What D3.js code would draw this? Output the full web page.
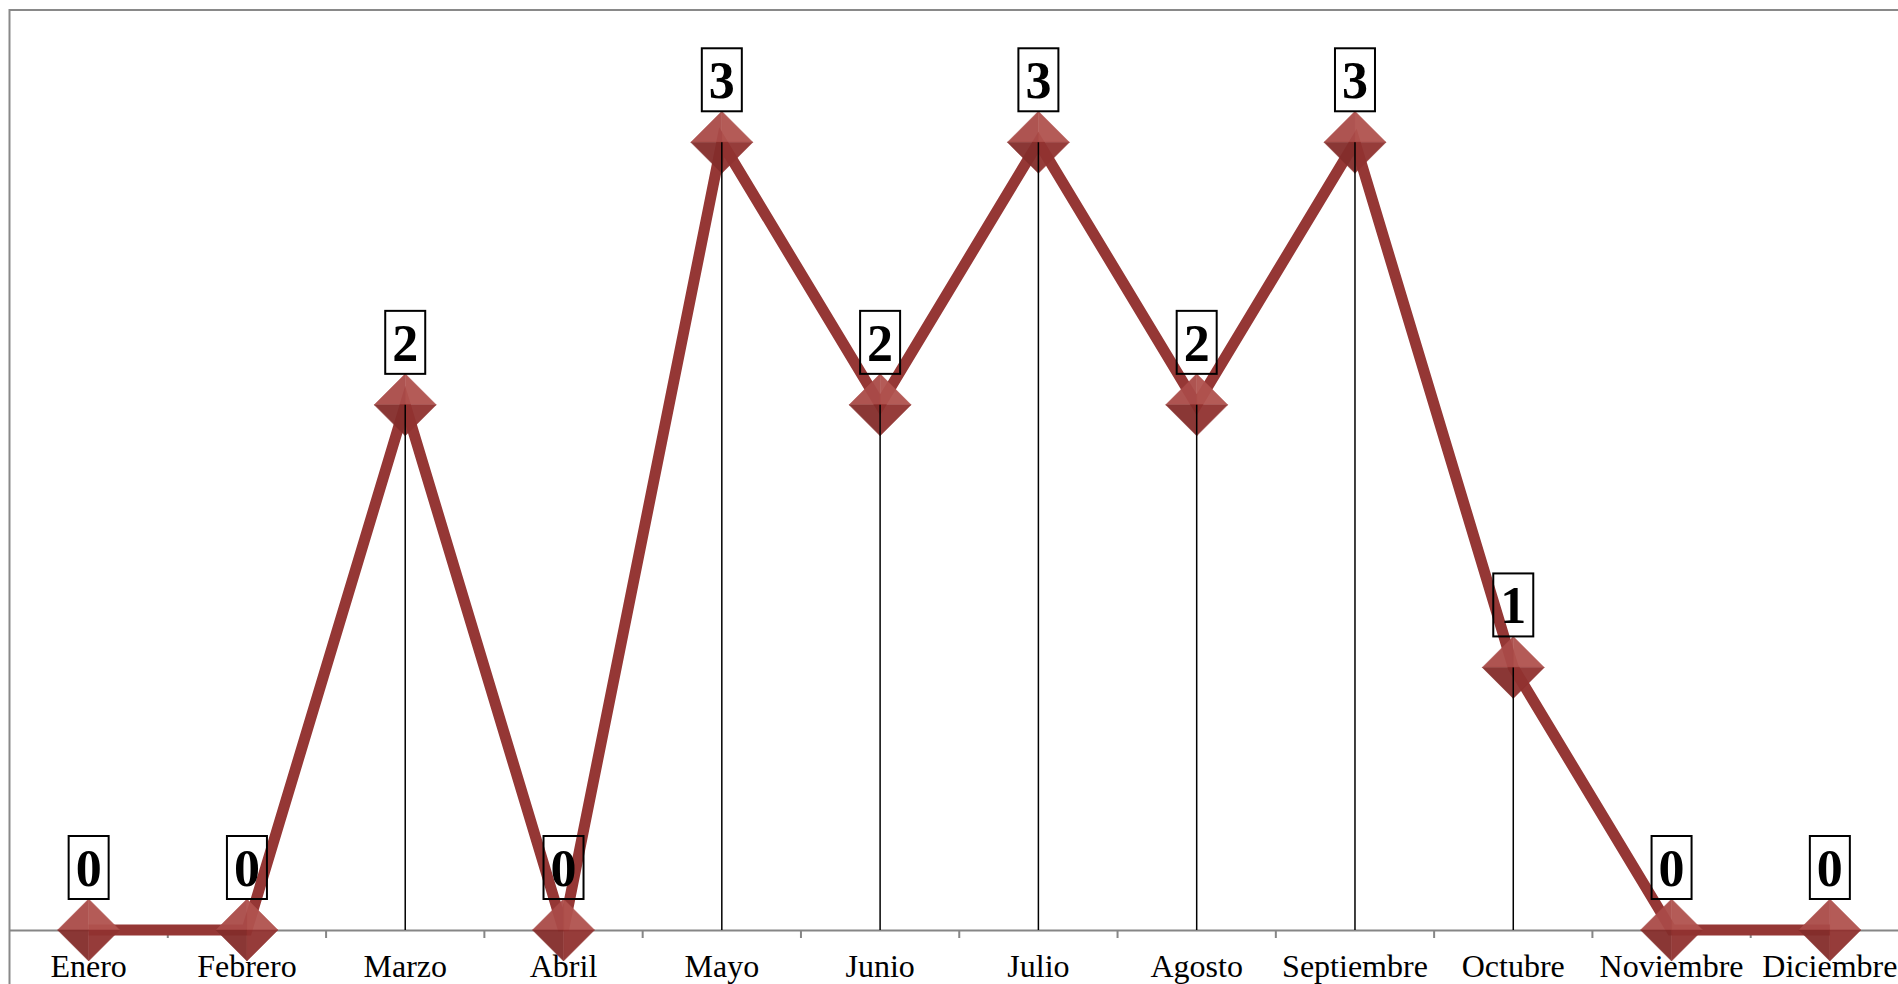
<!DOCTYPE html>
<html>
<head>
<meta charset="utf-8">
<script src="https://cdn.jsdelivr.net/npm/d3@7"></script>
<style>
  html, body { margin: 0; padding: 0; background: #fff; overflow: hidden; }
</style>
</head>
<body>
<script>
// chart data
const months = ["Enero", "Febrero", "Marzo", "Abril", "Mayo", "Junio",
                "Julio", "Agosto", "Septiembre", "Octubre", "Noviembre", "Diciembre"];
const counts = [0, 0, 2, 0, 3, 2, 3, 2, 3, 1, 0, 0];
const yMax = 3.5;

let margin = null, width = null, height = null;
let svg = null;
let x, y = null;

setupCanvasSize();
appendSvg("body");
setupScales();
appendFrame();
appendXAxis();
appendLine();
appendMarkers();
appendDropLines();
appendLabels();

function setupCanvasSize() {
  margin = {top: 11, left: 9.5, bottom: 54, right: -11};
  width = 1898 - margin.left - margin.right;
  height = 984 - margin.top - margin.bottom;
}

function appendSvg(domElement) {
  svg = d3.select(domElement).append("svg")
    .attr("width", 1898)
    .attr("height", 984)
    .append("g")
    .attr("transform", `translate(${margin.left}, ${margin.top})`);
}

function setupScales() {
  x = d3.scaleBand().range([0, width]).domain(months);
  y = d3.scaleLinear().range([height, 0]).domain([0, yMax]);
}

function cx(d, i) { return x(months[i]) + x.bandwidth() / 2; }

function appendFrame() {
  svg.append("rect")
    .attr("x", 0).attr("y", -1)
    .attr("width", width + 40).attr("height", height + 100)
    .attr("fill", "none")
    .attr("stroke", "#898989")
    .attr("stroke-width", 2);
}

function appendXAxis() {
  const ax = svg.append("g")
    .attr("transform", `translate(0, ${height})`)
    .call(d3.axisBottom(x).tickSize(0).tickPadding(0));
  ax.select(".domain").attr("stroke", "#868686").attr("stroke-width", 2);
  ax.selectAll(".tick text")
    .attr("y", 47)
    .attr("dy", null)
    .style("font-family", "'Liberation Serif', 'Times New Roman', serif")
    .style("font-size", "32px")
    .attr("fill", "#000");
  // ticks between categories
  svg.append("g").selectAll("line")
    .data(months.slice(1))
    .enter().append("line")
    .attr("x1", d => x(d)).attr("x2", d => x(d))
    .attr("y1", height).attr("y2", height + 8)
    .attr("stroke", "#868686").attr("stroke-width", 2);
}

function appendLine() {
  const line = d3.line()
    .x((d, i) => cx(d, i))
    .y(d => y(d));
  svg.append("path")
    .datum(counts)
    .attr("d", line)
    .attr("fill", "none")
    .attr("stroke", "#953735")
    .attr("stroke-width", 11)
    .attr("stroke-linejoin", "miter");
}

function appendMarkers() {
  const r = 31;
  const quads = [
    {pts: [[0, -r], [-r, 0], [0, 0]], fill: "#aa4b48"},
    {pts: [[0, -r], [r, 0], [0, 0]], fill: "#b1534f"},
    {pts: [[-r, 0], [0, r], [0, 0]], fill: "#842d2b"},
    {pts: [[r, 0], [0, r], [0, 0]], fill: "#913230"}
  ];
  const m = svg.append("g").selectAll("g")
    .data(counts)
    .enter().append("g")
    .attr("transform", (d, i) => `translate(${cx(d, i)}, ${y(d)})`)
    .attr("opacity", 0.95);
  quads.forEach(q => {
    m.append("path")
      .attr("d", "M" + q.pts.map(p => p.join(",")).join("L") + "Z")
      .attr("fill", q.fill)
      .attr("stroke", q.fill)
      .attr("stroke-width", 0.5);
  });
}

function appendDropLines() {
  svg.append("g").selectAll("line")
    .data(counts)
    .enter().append("line")
    .attr("x1", cx).attr("x2", cx)
    .attr("y1", d => y(d)).attr("y2", y(0))
    .attr("stroke", "#000").attr("stroke-width", 1.5);
}

function appendLabels() {
  const bw = 40, bh = 63, gap = 31;
  const lab = svg.append("g").selectAll("g")
    .data(counts)
    .enter().append("g")
    .attr("transform", (d, i) => `translate(${cx(d, i)}, ${y(d) - gap})`);
  lab.append("rect")
    .attr("x", -bw / 2).attr("y", -bh)
    .attr("width", bw).attr("height", bh)
    .attr("fill", "none")
    .attr("stroke", "#000").attr("stroke-width", 2);
  lab.append("text")
    .attr("x", 0).attr("y", -13)
    .attr("text-anchor", "middle")
    .style("font-family", "'Liberation Serif', 'Times New Roman', serif")
    .style("font-weight", "bold")
    .style("font-size", "52px")
    .text(d => d);
}
</script>
</body>
</html>
